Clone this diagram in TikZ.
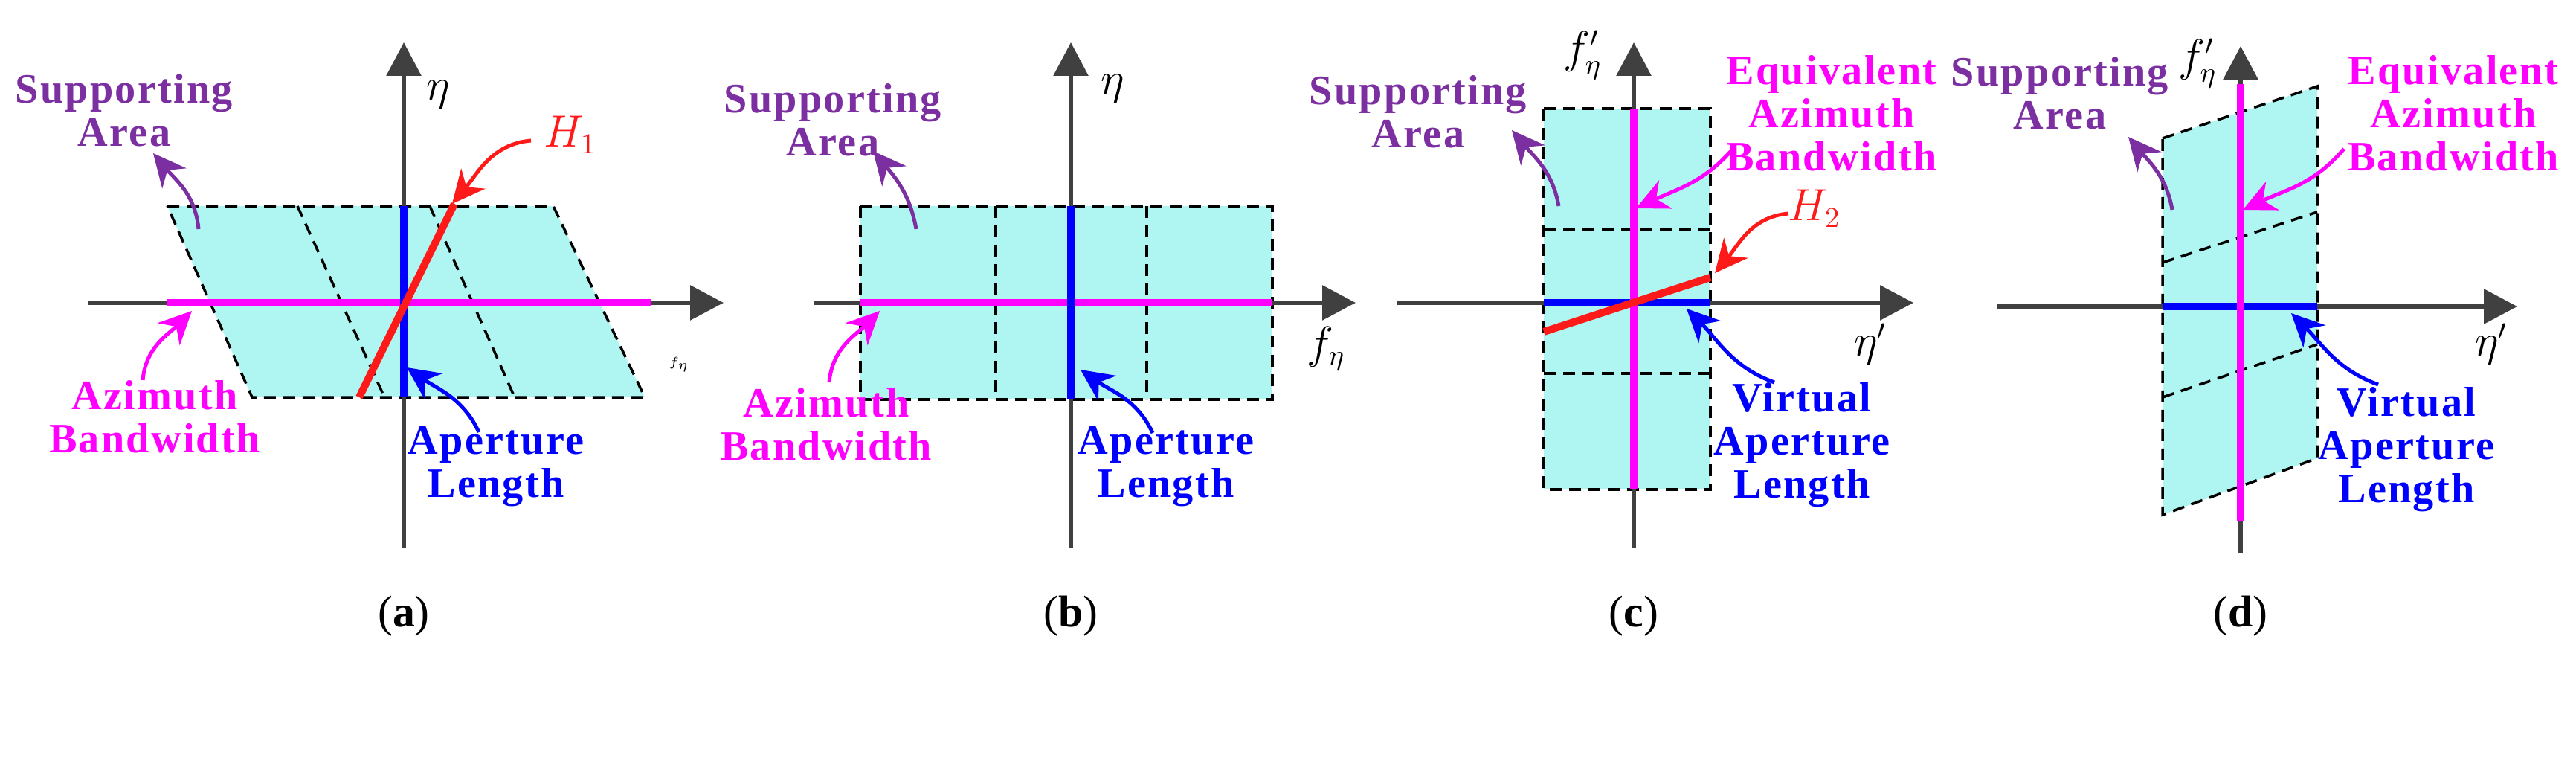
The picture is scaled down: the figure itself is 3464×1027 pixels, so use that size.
\documentclass[tikz,border=0pt]{standalone}
\usepackage{fontspec}
\setmainfont{Liberation Serif}
\usetikzlibrary{arrows.meta}
\definecolor{axg}{HTML}{404040}
\definecolor{sup}{HTML}{7B2FA0}
\definecolor{mag}{HTML}{FF00FF}
\definecolor{bl}{HTML}{0000FF}
\definecolor{rd}{HTML}{FF1A1A}
\definecolor{fil}{RGB}{175,246,242}
\begin{document}
\begin{tikzpicture}[x=0.1mm,y=0.1mm,
  axis/.style={draw=axg,line width=0.6mm,-{Triangle[length=4.5mm,width=4.6mm]}},
  reg/.style={fill=fil,draw=black,line width=0.35mm,dash pattern=on 1.6mm off 1mm},
  div/.style={draw=black,line width=0.35mm,dash pattern=on 1.6mm off 1mm},
  ml/.style={draw=mag,line width=1mm},
  bll/.style={draw=bl,line width=1mm},
  rl/.style={draw=rd,line width=1mm},
  ann/.style={line width=0.5mm,-{Stealth[length=4.4mm,width=4.2mm]}},
  lab/.style={font=\addfontfeatures{LetterSpace=4}\fontsize{16}{16.5}\selectfont\bfseries,align=center,inner sep=0pt},
  sym/.style={font=\fontsize{16}{16}\selectfont,inner sep=0pt},
  pcap/.style={font=\fontsize{17}{18}\selectfont,inner sep=0pt}]
\useasboundingbox (0,0) rectangle (3464,-1027);

% ---------- (a)
\fill[fil] (225,-277) -- (744,-277) -- (867,-534) -- (339,-534) -- cycle;
\draw[reg,fill=none] (225,-277) -- (744,-277) -- (867,-534) -- (339,-534) -- cycle;
\draw[div] (400,-277) -- (517,-534);
\draw[div] (578,-277) -- (692,-534);
\coordinate (aL) at (119,-407); \coordinate (aR) at (973,-407);
\coordinate (aB) at (543,-737); \coordinate (aT) at (543,-57);
\draw[axis] (aL) -- (aR);
\draw[axis] (aB) -- (aT);
\draw[ml] (225,-407) -- (876,-407);
\draw[bll] (543,-277) -- (543,-534);
\draw[rl] (483,-534) -- (611,-274);
\node[sym] (aeta) at (589,-127) {$\eta$};
\node[sym,font=\tiny] (af) at (913,-490) {$f_\eta$};
\node[sym,text=rd] (aH) at (767,-181) {$H_1$};
\node[lab,text=sup] (aS) at (167,-148) {Supporting\\Area};
\node[lab,text=mag] (aA) at (208,-560) {Azimuth\\Bandwidth};
\node[lab,text=bl] (aP) at (667,-627) {Aperture\\Length};
\coordinate (aSs) at (267,-308); \coordinate (aSt) at (206,-206);
\coordinate (aAs) at (192,-511); \coordinate (aAt) at (258,-418);
\coordinate (aPs) at (644,-581); \coordinate (aPt) at (547,-494);
\coordinate (aHs) at (714,-189); \coordinate (aHt) at (608,-274);
\draw[ann,sup] (aSs) to[out=95,in=-50] (aSt);
\draw[ann,mag] (aAs) to[out=85,in=-135] (aAt);
\draw[ann,bl] (aPs) to[out=115,in=-35] (aPt);
\draw[ann,rd] (aHs) to[out=185,in=50] (aHt);
\node[pcap] (ca) at (543,-828) {(\textbf{a})};

% ---------- (b)
\draw[reg] (1157,-277) rectangle (1711,-537);
\draw[div] (1339,-277) -- (1339,-537);
\draw[div] (1542,-277) -- (1542,-537);
\coordinate (bL) at (1094,-407); \coordinate (bR) at (1823,-407);
\coordinate (bB) at (1440,-737); \coordinate (bT) at (1440,-57);
\draw[axis] (bL) -- (bR);
\draw[axis] (bB) -- (bT);
\draw[ml] (1157,-407) -- (1711,-407);
\draw[bll] (1440,-277) -- (1440,-537);
\node[sym] (beta) at (1496,-119) {$\eta$};
\node[sym] (bf) at (1783,-469) {$f_\eta$};
\node[lab,text=sup] (bS) at (1120,-161) {Supporting\\Area};
\node[lab,text=mag] (bA) at (1111,-570) {Azimuth\\Bandwidth};
\node[lab,text=bl] (bP) at (1568,-627) {Aperture\\Length};
\coordinate (bSs) at (1232,-308); \coordinate (bSt) at (1174,-203);
\coordinate (bAs) at (1115,-514); \coordinate (bAt) at (1183,-418);
\coordinate (bPs) at (1550,-582); \coordinate (bPt) at (1453,-497);
\draw[ann,sup] (bSs) to[out=100,in=-50] (bSt);
\draw[ann,mag] (bAs) to[out=85,in=-135] (bAt);
\draw[ann,bl] (bPs) to[out=115,in=-35] (bPt);
\node[pcap] (cb) at (1440,-828) {(\textbf{b})};

% ---------- (c)
\draw[reg] (2076,-146) rectangle (2300,-658);
\draw[div] (2076,-308) -- (2300,-308);
\draw[div] (2076,-502) -- (2300,-502);
\coordinate (cL) at (1878,-407); \coordinate (cR) at (2573,-407);
\coordinate (cB) at (2197,-737); \coordinate (cT) at (2197,-57);
\draw[axis] (cL) -- (cR);
\draw[axis] (cB) -- (cT);
\draw[bll] (2076,-407) -- (2300,-407);
\draw[ml] (2197,-146) -- (2197,-658);
\draw[rl] (2076,-446) -- (2300,-373);
\node[sym] (cf) at (2128,-74) {$f_\eta'$};
\node[sym] (ceta) at (2515,-463) {$\eta'$};
\node[sym,text=rd] (cH) at (2440,-280) {$H_2$};
\node[lab,text=sup] (cS) at (1907,-150) {Supporting\\Area};
\node[lab,text=mag] (cE) at (2463,-152) {Equivalent\\Azimuth\\Bandwidth};
\node[lab,text=bl] (cV) at (2423,-598) {Virtual\\Aperture\\Length};
\coordinate (cSs) at (2096,-277); \coordinate (cSt) at (2033,-175);
\coordinate (cEs) at (2332,-198); \coordinate (cEt) at (2200,-280);
\coordinate (cHs) at (2405,-287); \coordinate (cHt) at (2306,-367);
\coordinate (cVs) at (2386,-514); \coordinate (cVt) at (2268,-415);
\draw[ann,sup] (cSs) to[out=100,in=-50] (cSt);
\draw[ann,mag] (cEs) to[out=230,in=25] (cEt);
\draw[ann,rd] (cHs) to[out=185,in=50] (cHt);
\draw[ann,bl] (cVs) to[out=160,in=-45] (cVt);
\node[pcap] (cc) at (2197,-828) {(\textbf{c})};

% ---------- (d)
\draw[reg] (2908,-186) -- (3116,-116) -- (3116,-616) -- (2908,-692) -- cycle;
\draw[div] (2908,-353) -- (3116,-285);
\draw[div] (2908,-534) -- (3116,-463);
\coordinate (dL) at (2685,-412); \coordinate (dR) at (3385,-412);
\coordinate (dB) at (3013,-743); \coordinate (dT) at (3013,-62);
\draw[axis] (dL) -- (dR);
\draw[axis] (dB) -- (dT);
\draw[bll] (2908,-412) -- (3116,-412);
\draw[ml] (3013,-113) -- (3013,-700);
\node[sym] (df) at (2955,-85) {$f_\eta'$};
\node[sym] (deta) at (3350,-463) {$\eta'$};
\node[lab,text=sup] (dS) at (2770,-125) {Supporting\\Area};
\node[lab,text=mag] (dE) at (3299,-152) {Equivalent\\Azimuth\\Bandwidth};
\node[lab,text=bl] (dV) at (3236,-604) {Virtual\\Aperture\\Length};
\coordinate (dSs) at (2921,-282); \coordinate (dSt) at (2862,-184);
\coordinate (dEs) at (3152,-200); \coordinate (dEt) at (3016,-282);
\coordinate (dVs) at (3198,-517); \coordinate (dVt) at (3081,-421);
\draw[ann,sup] (dSs) to[out=100,in=-50] (dSt);
\draw[ann,mag] (dEs) to[out=230,in=25] (dEt);
\draw[ann,bl] (dVs) to[out=160,in=-45] (dVt);
\node[pcap] (cd) at (3013,-828) {(\textbf{d})};
\end{tikzpicture}
\end{document}
